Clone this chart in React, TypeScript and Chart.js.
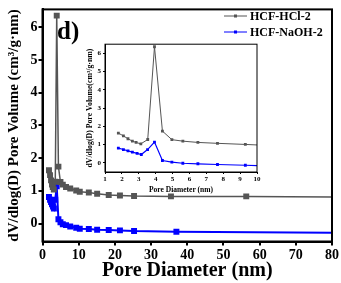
import React, { useEffect, useRef } from "react";
import { Chart, registerables } from "chart.js";

Chart.register(...registerables);

const hclX = [1.79, 2.09, 2.36, 2.62, 2.84, 3.12, 3.53, 3.93, 4.4, 4.96, 5.61, 6.5, 7.66, 9.31, 10.3, 12.8, 15.1, 18.3, 21.4, 25.3, 35.5, 56.3, 80];
const hclY = [1.63, 1.48, 1.32, 1.19, 1.12, 1.04, 1.28, 6.36, 1.74, 1.27, 1.19, 1.12, 1.07, 1.01, 0.97, 0.95, 0.91, 0.87, 0.86, 0.84, 0.83, 0.83, 0.81];
const naohX = [1.79, 2.09, 2.36, 2.62, 2.9, 3.15, 3.52, 3.93, 4.4, 4.96, 5.61, 6.5, 7.66, 9.31, 10.3, 12.8, 15.1, 18.3, 21.4, 25.3, 37.0, 80];
const naohY = [0.81, 0.73, 0.66, 0.59, 0.52, 0.46, 0.73, 1.14, 0.13, 0.04, -0.02, -0.05, -0.09, -0.13, -0.16, -0.17, -0.19, -0.2, -0.21, -0.23, -0.25, -0.28];
const seriesNames = ["HCF-HCl-2", "HCF-NaOH-2"];
const yTickValues = [0, 1, 2, 3, 4, 5, 6];

const GRAY = "#555555";
const BLUE = "#0000ff";
const FONT = "'Liberation Serif', 'Times New Roman', serif";

const pts = (xs: number[], ys: number[]) => xs.map((x, i) => ({ x, y: ys[i] }));

const frame = (w: number) => ({
  id: "frame" + w,
  afterDraw(chart: any) {
    const { ctx, chartArea: a } = chart;
    ctx.save();
    ctx.strokeStyle = "#000";
    ctx.lineWidth = w;
    ctx.strokeRect(a.left, a.top, a.right - a.left, a.bottom - a.top);
    ctx.restore();
  },
});

const legendPlugin = {
  id: "customLegend",
  afterDraw(chart: any) {
    const { ctx } = chart;
    const colors = [GRAY, BLUE];
    ctx.save();
    seriesNames.forEach((name, i) => {
      const y = 16 + i * 16;
      ctx.strokeStyle = colors[i];
      ctx.lineWidth = 1;
      ctx.beginPath();
      ctx.moveTo(224, y);
      ctx.lineTo(247, y);
      ctx.stroke();
      ctx.fillStyle = colors[i];
      ctx.fillRect(234, y - 1.5, 3, 3);
      ctx.fillStyle = "#000";
      ctx.font = `bold 12px ${FONT}`;
      ctx.textBaseline = "middle";
      ctx.textAlign = "left";
      ctx.fillText(name, 250, y + 0.5);
    });
    ctx.font = `bold 25px ${FONT}`;
    ctx.textBaseline = "alphabetic";
    ctx.fillText("d)", 57, 39);
    ctx.restore();
  },
};

export default function App() {
  const mainRef = useRef<HTMLCanvasElement>(null);
  const insetRef = useRef<HTMLCanvasElement>(null);

  useEffect(() => {
    document.body.style.margin = "0";
    const lastH = hclX.length - 1;
    const lastN = naohX.length - 1;
    const main = new Chart(mainRef.current!, {
      type: "scatter",
      data: {
        datasets: [
          {
            label: seriesNames[0],
            data: pts(hclX, hclY),
            showLine: true,
            borderColor: GRAY,
            backgroundColor: GRAY,
            borderWidth: 1.5,
            pointStyle: "rect",
            pointRadius: (c: any) => (c.dataIndex === lastH ? 0 : 4.2),
            pointBorderWidth: 0,
          },
          {
            label: seriesNames[1],
            data: pts(naohX, naohY),
            showLine: true,
            borderColor: BLUE,
            backgroundColor: BLUE,
            borderWidth: 2,
            pointStyle: "rect",
            pointRadius: (c: any) => (c.dataIndex === lastN ? 0 : 4.2),
            pointBorderWidth: 0,
          },
        ],
      },
      options: {
        responsive: false,
        animation: false,
        devicePixelRatio: 1,
        layout: { padding: { top: 6, right: 9, left: 0, bottom: 0 } },
        plugins: { legend: { display: false }, tooltip: { enabled: false } },
        scales: {
          x: {
            type: "linear",
            min: 0,
            max: 80,
            ticks: { stepSize: 10, color: "#000", font: { family: FONT, weight: "bold", size: 14 }, padding: 1, maxRotation: 0 },
            grid: { display: true, drawOnChartArea: false, drawTicks: true, tickLength: 4, lineWidth: 2, color: "#000" },
            border: { display: true, color: "#000", width: 2 },
            title: { display: true, text: "Pore Diameter (nm)", color: "#000", font: { family: FONT, weight: "bold", size: 20 }, padding: { top: 0, bottom: 0 } },
            afterFit: (s: any) => { s.height = 41.5; },
          },
          y: {
            type: "linear",
            min: -0.55,
            max: 6.55,
            afterBuildTicks: (s: any) => { s.ticks = yTickValues.map((v) => ({ value: v })); },
            ticks: { color: "#000", font: { family: FONT, weight: "bold", size: 14 }, padding: 1 },
            grid: { display: true, drawOnChartArea: false, drawTicks: true, tickLength: 4, lineWidth: 2, color: "#000" },
            border: { display: true, color: "#000", width: 2 },
            title: { display: true, text: "dV/dlog(D) Pore Volume (cm³/g·nm)", color: "#000", font: { family: FONT, weight: "bold", size: 15 }, padding: { top: 5, bottom: 0 } },
            afterFit: (s: any) => { s.width = 42.5; },
          },
        },
      },
      plugins: [frame(2), legendPlugin],
    } as any);

    const inset = new Chart(insetRef.current!, {
      type: "scatter",
      data: {
        datasets: [
          {
            label: seriesNames[0],
            data: pts(hclX, hclY),
            showLine: true,
            borderColor: GRAY,
            backgroundColor: GRAY,
            borderWidth: 1,
            pointStyle: "rect",
            pointRadius: 2,
            pointBorderWidth: 0,
          },
          {
            label: seriesNames[1],
            data: pts(naohX, naohY),
            showLine: true,
            borderColor: BLUE,
            backgroundColor: BLUE,
            borderWidth: 1.2,
            pointStyle: "rect",
            pointRadius: 2,
            pointBorderWidth: 0,
          },
        ],
      },
      options: {
        responsive: false,
        animation: false,
        devicePixelRatio: 1,
        layout: { padding: { top: 6, right: 8, left: 0, bottom: 0 } },
        plugins: { legend: { display: false }, tooltip: { enabled: false } },
        scales: {
          x: {
            type: "linear",
            min: 1,
            max: 10,
            ticks: { stepSize: 1, color: "#000", font: { family: FONT, weight: "bold", size: 7 }, padding: 1, maxRotation: 0 },
            grid: { display: true, drawOnChartArea: false, drawTicks: true, tickLength: 2, lineWidth: 1, color: "#000" },
            border: { display: true, color: "#000", width: 1 },
            title: { display: true, text: "Pore Diameter (nm)", color: "#000", font: { family: FONT, weight: "bold", size: 7.5 }, padding: { top: 0, bottom: 8 } },
            afterFit: (s: any) => { s.height = 31; },
          },
          y: {
            type: "linear",
            min: -0.5,
            max: 6.5,
            afterBuildTicks: (s: any) => { s.ticks = yTickValues.map((v) => ({ value: v })); },
            ticks: { color: "#000", font: { family: FONT, weight: "bold", size: 7 }, padding: 2 },
            grid: { display: true, drawOnChartArea: false, drawTicks: true, tickLength: 2, lineWidth: 1, color: "#000" },
            border: { display: true, color: "#000", width: 1 },
            title: { display: true, text: "dV/dlog(D) Pore Volume(cm³/g·nm)", color: "#000", font: { family: FONT, weight: "bold", size: 7.8 }, padding: { top: 15, bottom: 0 } },
            afterFit: (s: any) => { s.width = 35; },
          },
        },
      },
      plugins: [frame(1)],
    } as any);

    return () => {
      main.destroy();
      inset.destroy();
    };
  }, []);

  return (
    <div style={{ position: "absolute", left: 0, top: 0, width: 341, height: 283, background: "#fff" }}>
      <canvas ref={mainRef} width={341} height={283} style={{ position: "absolute", left: 0, top: 0, width: 341, height: 283 }} />
      <canvas ref={insetRef} width={195} height={165} style={{ position: "absolute", left: 70, top: 38, width: 195, height: 165 }} />
    </div>
  );
}
